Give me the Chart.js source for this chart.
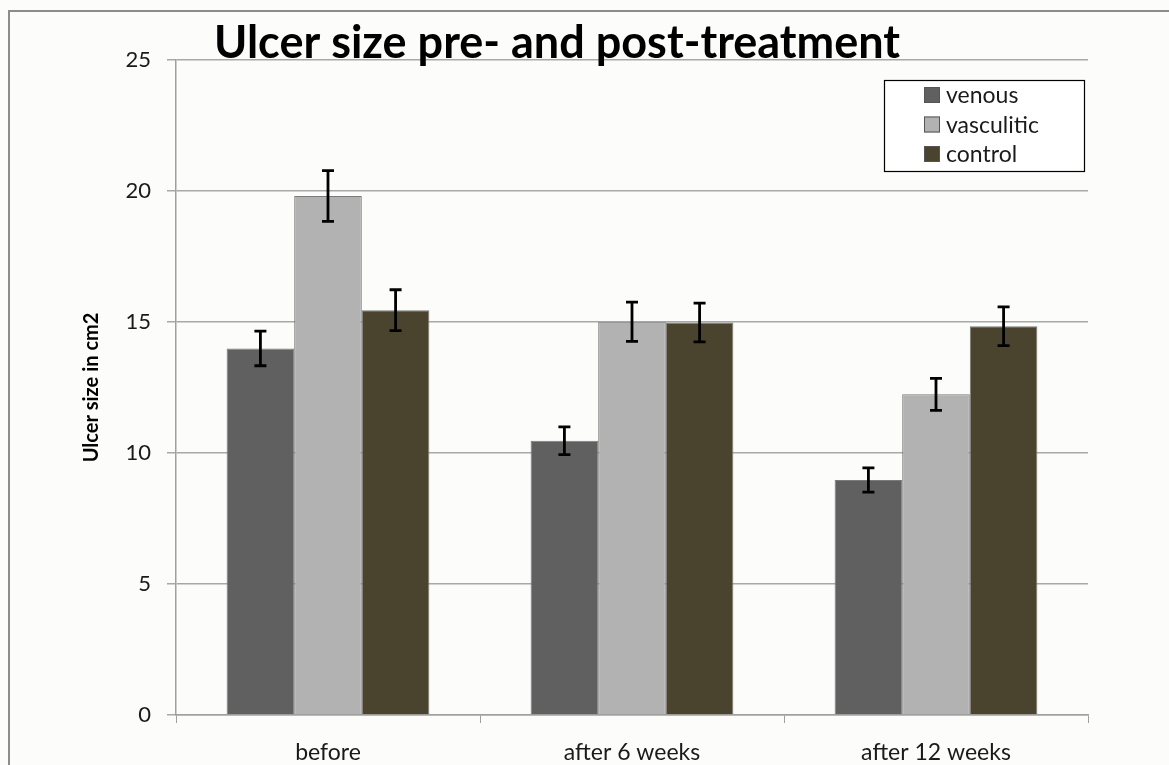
<!DOCTYPE html>
<html>
<head>
<meta charset="utf-8">
<script src="https://cdn.jsdelivr.net/npm/chart.js@4/dist/chart.umd.min.js"></script>
<style>
  html, body { margin: 0; padding: 0; background: #fcfcfa; }
  #wrap { width: 1169px; height: 765px; position: relative; }
</style>
</head>
<body>
<div id="wrap"><canvas id="c" width="1169" height="765"></canvas></div>
<script>
const chartTitle = 'Ulcer size pre- and post-treatment';
const yAxisTitle = 'Ulcer size in cm2';
const categories = ['before', 'after 6 weeks', 'after 12 weeks'];
const seriesNames = ['venous', 'vasculitic', 'control'];
const venous = [13.99, 10.47, 8.97];
const vasculitic = [19.81, 15.01, 12.24];
const control = [15.45, 14.98, 14.84];
const venousErr = [0.66, 0.53, 0.46];
const vasculiticErr = [0.97, 0.75, 0.61];
const controlErr = [0.78, 0.74, 0.74];
const yTicks = [0, 5, 10, 15, 20, 25];

const colors = ['#606060', '#b2b2b2', '#4a442e'];
const FONT = 'Lato, "Open Sans", "DejaVu Sans", sans-serif';

const backgroundFrame = {
  id: 'backgroundFrame',
  beforeDraw(chart) {
    const ctx = chart.ctx;
    ctx.save();
    ctx.fillStyle = '#fcfcfa';
    ctx.fillRect(0, 0, chart.width, chart.height);
    ctx.strokeStyle = '#8c8c8c';
    ctx.lineWidth = 2;
    ctx.beginPath();
    ctx.moveTo(9, chart.height);
    ctx.lineTo(9, 11);
    ctx.lineTo(chart.width, 11);
    ctx.stroke();
    ctx.restore();
  }
};

const errorBars = {
  id: 'errorBars',
  afterDatasetsDraw(chart) {
    const ctx = chart.ctx;
    const y = chart.scales.y;
    ctx.save();
    ctx.strokeStyle = '#000';
    ctx.lineWidth = 2.8;
    chart.data.datasets.forEach((ds, di) => {
      const meta = chart.getDatasetMeta(di);
      meta.data.forEach((bar, i) => {
        const v = ds.data[i], e = ds.errors[i];
        const yt = y.getPixelForValue(v + e);
        const yb = y.getPixelForValue(v - e);
        const cap = 6;
        ctx.beginPath();
        ctx.moveTo(bar.x, yt); ctx.lineTo(bar.x, yb);
        ctx.moveTo(bar.x - cap, yt); ctx.lineTo(bar.x + cap, yt);
        ctx.moveTo(bar.x - cap, yb); ctx.lineTo(bar.x + cap, yb);
        ctx.stroke();
      });
    });
    ctx.restore();
  }
};

const customText = {
  id: 'customText',
  afterDraw(chart) {
    const ctx = chart.ctx;
    const ca = chart.chartArea;
    ctx.save();
    // title
    ctx.fillStyle = '#000';
    ctx.font = 'bold 45px ' + FONT;
    ctx.textAlign = 'center';
    ctx.textBaseline = 'alphabetic';
    ctx.fillText(chartTitle, 557, 58);
    // legend
    const bx = ca.right - 204, by = ca.top + 20, bw = 200, bh = 91;
    ctx.fillStyle = '#ffffff';
    ctx.fillRect(bx, by, bw, bh);
    ctx.strokeStyle = '#000';
    ctx.lineWidth = 1.2;
    ctx.strokeRect(bx + 0.5, by + 0.5, bw, bh);
    ctx.font = '23px ' + FONT;
    ctx.textAlign = 'left';
    ctx.textBaseline = 'middle';
    chart.data.datasets.forEach((ds, i) => {
      const cy = by + 15 + i * 29.5;
      ctx.fillStyle = ds.backgroundColor;
      ctx.fillRect(bx + 40, cy - 8, 16, 16);
      ctx.strokeStyle = '#555';
      ctx.lineWidth = 1;
      ctx.strokeRect(bx + 40.5, cy - 7.5, 15, 15);
      ctx.fillStyle = '#1a1a1a';
      ctx.fillText(ds.label, bx + 62, cy + 1);
    });
    ctx.restore();
  }
};

const datasets = [
  { label: seriesNames[0], data: venous, errors: venousErr, backgroundColor: colors[0] },
  { label: seriesNames[1], data: vasculitic, errors: vasculiticErr, backgroundColor: colors[1] },
  { label: seriesNames[2], data: control, errors: controlErr, backgroundColor: colors[2] }
].map(d => Object.assign(d, { borderColor: '#7a7a7a', borderWidth: 1, borderSkipped: 'bottom',
  categoryPercentage: 0.667, barPercentage: 1.0 }));

new Chart(document.getElementById('c'), {
  type: 'bar',
  data: { labels: categories, datasets },
  options: {
    responsive: false,
    animation: false,
    devicePixelRatio: 1,
    layout: { padding: { top: 60, right: 81, left: 0, bottom: 0 } },
    plugins: { legend: { display: false }, title: { display: false }, tooltip: { enabled: false } },
    scales: {
      x: {
        grid: { drawOnChartArea: false, drawTicks: true, tickLength: 8, color: '#a0a0a0', offset: true },
        border: { color: '#a0a0a0', width: 1.5 },
        ticks: { color: '#1a1a1a', font: { family: FONT, size: 23 }, padding: 16 },
        afterFit(s) { s.height = 50; }
      },
      y: {
        min: 0, max: 25,
        afterBuildTicks(s) { s.ticks = yTicks.map(v => ({ value: v })); },
        grid: { color: '#a8a8a8', lineWidth: 1.5, tickLength: 9 },
        border: { color: '#a0a0a0', width: 1.5 },
        ticks: { color: '#1a1a1a', font: { family: FONT, size: 22 }, padding: 16 },
        title: { display: true, text: yAxisTitle, color: '#000', font: { family: FONT, size: 20, weight: 'bold' }, padding: { top: 80 } },
        afterFit(s) { s.width = 176; }
      }
    }
  },
  plugins: [backgroundFrame, errorBars, customText]
});
</script>
</body>
</html>
